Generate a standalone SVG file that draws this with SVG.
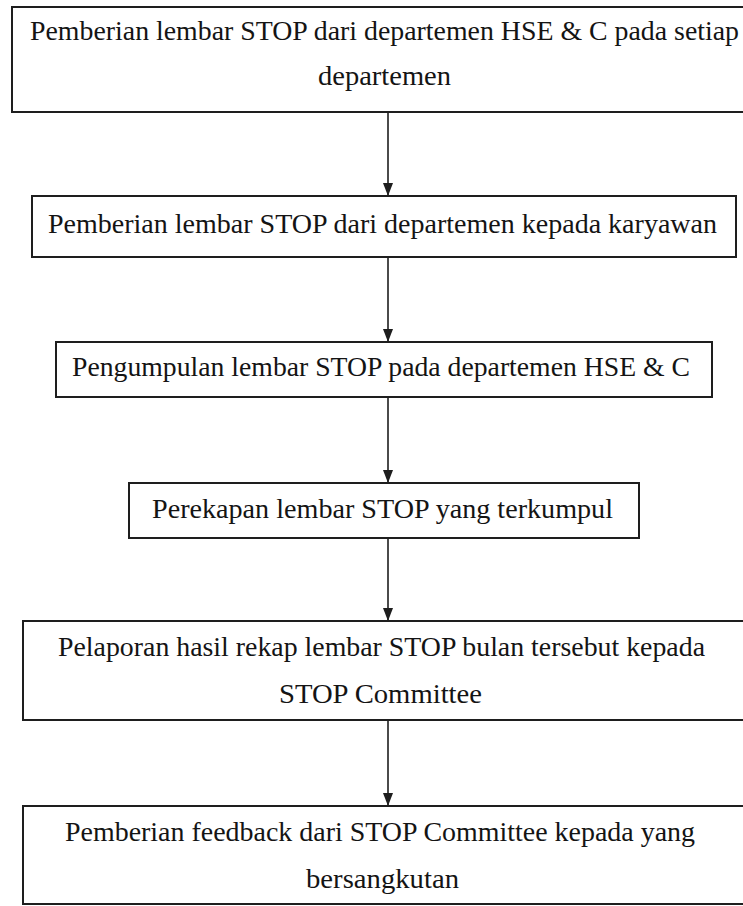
<svg xmlns="http://www.w3.org/2000/svg" width="743" height="906" viewBox="0 0 743 906">
<style>
.box{fill:#ffffff;stroke:#1e1e1e;stroke-width:2}
.t{font-family:"Liberation Serif","Times New Roman",serif;font-size:28px;fill:#141414;text-anchor:start}
.c{stroke:#1e1e1e;stroke-width:1.6;fill:none}
</style>
<defs>
<marker id="ah" markerWidth="13" markerHeight="10" refX="13" refY="5" orient="auto" markerUnits="userSpaceOnUse" viewBox="0 0 13 10">
<path d="M0,0 L13,5 L0,10 Z" fill="#1e1e1e"/>
</marker>
</defs>
<rect width="743" height="906" fill="#ffffff"/>
<g id="connectors">
<line class="c" x1="388" y1="112" x2="388" y2="196" marker-end="url(#ah)"/>
<line class="c" x1="388" y1="257" x2="388" y2="342" marker-end="url(#ah)"/>
<line class="c" x1="388" y1="397" x2="388" y2="483" marker-end="url(#ah)"/>
<line class="c" x1="388" y1="538" x2="388" y2="621" marker-end="url(#ah)"/>
<line class="c" x1="388" y1="720" x2="388" y2="806" marker-end="url(#ah)"/>
</g>
<g id="node1">
<rect class="box" x="12" y="7" width="745" height="105"/>
<text class="t" x="30" y="40" textLength="709" lengthAdjust="spacingAndGlyphs">Pemberian lembar STOP dari departemen HSE &amp; C pada setiap</text>
<text class="t" x="318" y="85" textLength="133" lengthAdjust="spacingAndGlyphs">departemen</text>
</g>
<g id="node2">
<rect class="box" x="32" y="196" width="704" height="61"/>
<text class="t" x="48" y="233" textLength="669" lengthAdjust="spacingAndGlyphs">Pemberian lembar STOP dari departemen kepada karyawan</text>
</g>
<g id="node3">
<rect class="box" x="56" y="342" width="656" height="55"/>
<text class="t" x="72" y="376" textLength="618" lengthAdjust="spacingAndGlyphs">Pengumpulan lembar STOP pada departemen HSE &amp; C</text>
</g>
<g id="node4">
<rect class="box" x="129" y="483" width="510" height="55"/>
<text class="t" x="152" y="518" textLength="461" lengthAdjust="spacingAndGlyphs">Perekapan lembar STOP yang terkumpul</text>
</g>
<g id="node5">
<rect class="box" x="23" y="621" width="734" height="99"/>
<text class="t" x="58" y="656" textLength="647" lengthAdjust="spacingAndGlyphs">Pelaporan hasil rekap lembar STOP bulan tersebut kepada</text>
<text class="t" x="279" y="703" textLength="203" lengthAdjust="spacingAndGlyphs">STOP Committee</text>
</g>
<g id="node6">
<rect class="box" x="23" y="806" width="734" height="98"/>
<text class="t" x="65" y="841" textLength="630" lengthAdjust="spacingAndGlyphs">Pemberian feedback dari STOP Committee kepada yang</text>
<text class="t" x="306" y="888" textLength="153" lengthAdjust="spacingAndGlyphs">bersangkutan</text>
</g>
</svg>
